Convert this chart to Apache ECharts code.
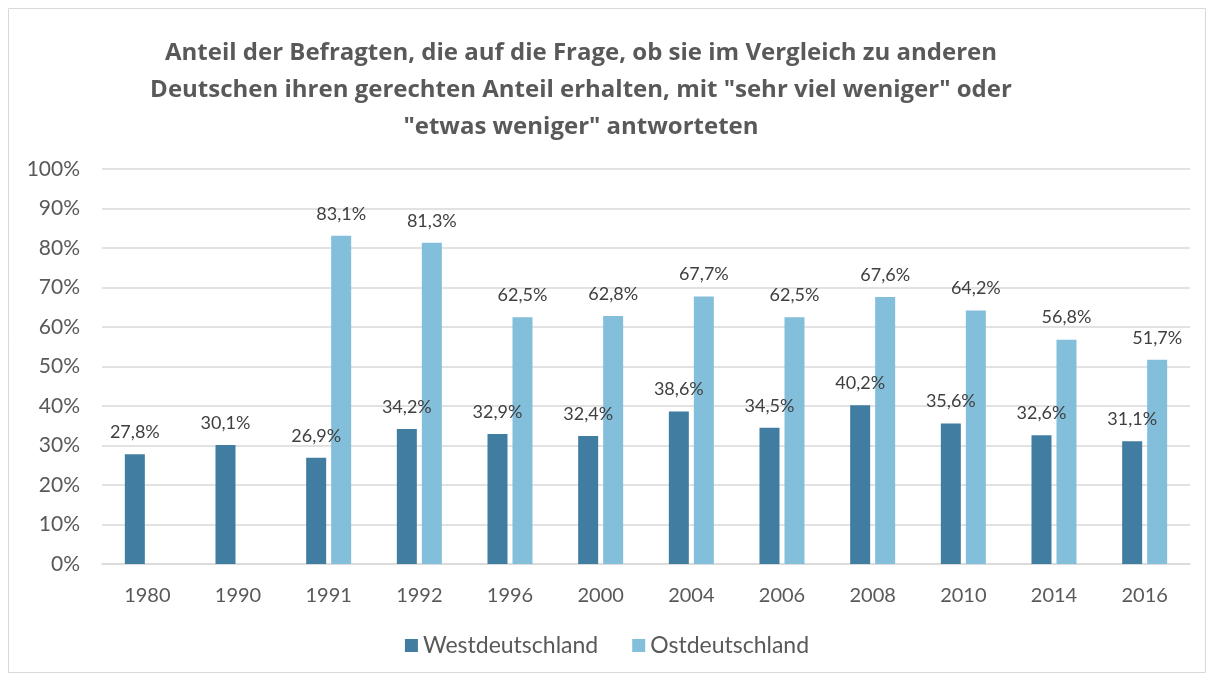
<!DOCTYPE html>
<html>
<head>
<meta charset="utf-8">
<script src="https://cdn.jsdelivr.net/npm/echarts@6/dist/echarts.min.js"></script>
<style>
  html, body { margin: 0; padding: 0; background: #fff; }
  #main { width: 1214px; height: 680px; }
</style>
</head>
<body>
<div id="main"></div>
<script>
// Daten aus der Grafik
const jahre = ['1980', '1990', '1991', '1992', '1996', '2000', '2004', '2006', '2008', '2010', '2014', '2016'];
const west = [27.8, 30.1, 26.9, 34.2, 32.9, 32.4, 38.6, 34.5, 40.2, 35.6, 32.6, 31.1];
const ost = [null, null, 83.1, 81.3, 62.5, 62.8, 67.7, 62.5, 67.6, 64.2, 56.8, 51.7];

const titel = 'Anteil der Befragten, die auf die Frage, ob sie im Vergleich zu anderen\nDeutschen ihren gerechten Anteil erhalten, mit "sehr viel weniger" oder\n"etwas weniger" antworteten';

const textFont = 'Lato, "Open Sans", sans-serif';

function fmt(p) {
  if (p.value == null) return '';
  return p.value.toFixed(1).replace('.', ',') + '%';
}

let chart = echarts.init(document.getElementById('main'), null, { renderer: 'canvas' });

let option = {
  backgroundColor: '#fff',
  animation: false,
  graphic: [{
    type: 'rect',
    shape: { x: 8.5, y: 8.5, width: 1197, height: 664 },
    style: { fill: 'none', stroke: '#d9d9d9', lineWidth: 1 },
    z: -1
  }],
  title: {
    text: titel,
    left: 576,
    top: 30,
    textAlign: 'center',
    textStyle: {
      fontFamily: '"Liberation Sans Narrow", "Open Sans", sans-serif',
      fontWeight: 'bold',
      fontSize: 24,
      lineHeight: 37,
      color: '#595959'
    }
  },
  legend: {
    bottom: 18,
    left: 'center',
    itemWidth: 13,
    itemHeight: 13,
    itemGap: 34,
    icon: 'rect',
    textStyle: { fontFamily: textFont, fontSize: 23, color: '#595959' },
    data: ['Westdeutschland', 'Ostdeutschland']
  },
  grid: { left: 102, right: 24, top: 169, bottom: 116, containLabel: false },
  xAxis: {
    type: 'category',
    data: jahre,
    axisLine: { lineStyle: { color: '#d9d9d9', width: 1.5 } },
    axisTick: { show: false },
    axisLabel: { fontFamily: textFont, fontSize: 20, color: '#595959', margin: 22 }
  },
  yAxis: {
    type: 'value',
    min: 0,
    max: 100,
    interval: 10,
    axisLine: { show: false },
    axisTick: { show: false },
    splitLine: { lineStyle: { color: '#d9d9d9', width: 1.5 } },
    axisLabel: {
      fontFamily: textFont, fontSize: 21, color: '#595959', margin: 22,
      formatter: '{value}%'
    }
  },
  series: [{
    name: 'Westdeutschland',
    type: 'bar',
    data: west,
    barWidth: 20,
    barGap: '25%',
    itemStyle: { color: '#417ca1' },
    label: {
      show: true, position: 'top', distance: 13,
      fontFamily: textFont, fontSize: 18, color: '#404040',
      formatter: fmt
    }
  }, {
    name: 'Ostdeutschland',
    type: 'bar',
    data: ost,
    barWidth: 20,
    itemStyle: { color: '#83bedb' },
    label: {
      show: true, position: 'top', distance: 13,
      fontFamily: textFont, fontSize: 18, color: '#404040',
      formatter: fmt
    }
  }]
};

chart.setOption(option);
</script>
</body>
</html>
